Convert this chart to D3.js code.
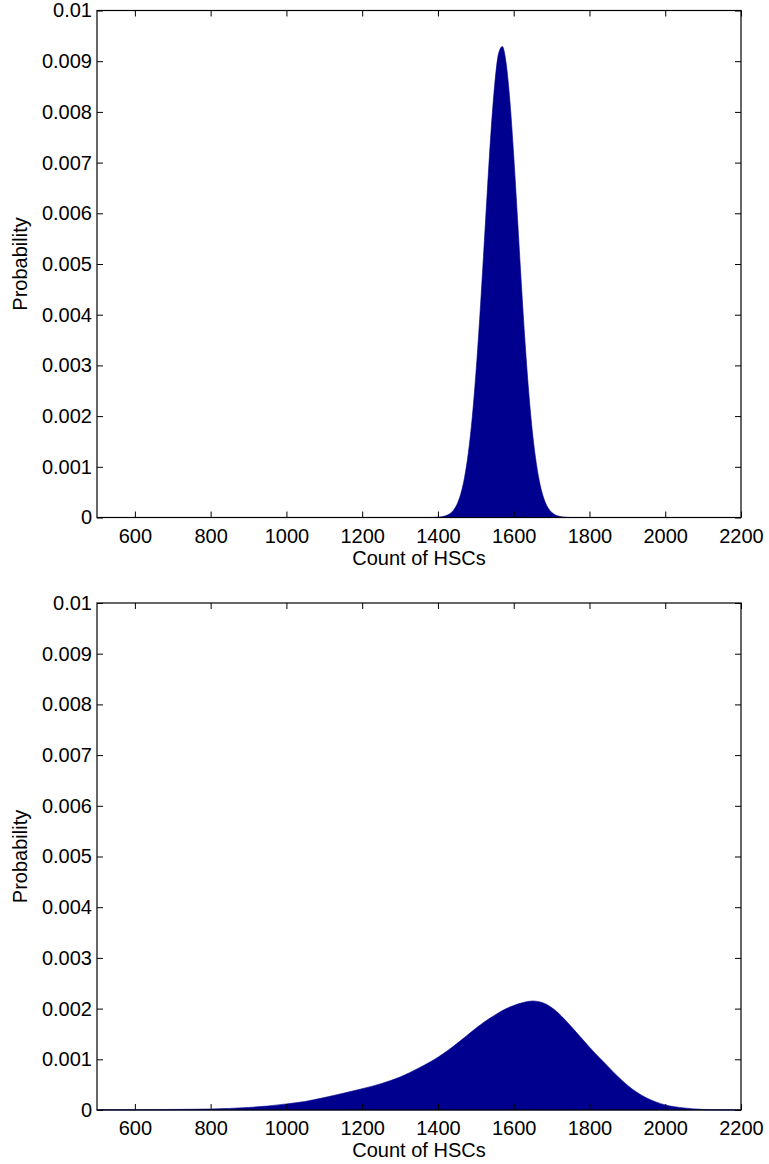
<!DOCTYPE html>
<html>
<head>
<meta charset="utf-8">
<script src="https://cdn.jsdelivr.net/npm/d3@7"></script>
<style>
  body { margin: 0; background: #fff; }
  svg { display: block; font-family: "Liberation Sans", Arial, sans-serif; }
</style>
</head>
<body>
<div id="chart"></div>
<script>
// x positions (count of HSCs) and probabilities
const topCounts = [500, 1380, 1390, 1400, 1410, 1420, 1430, 1440, 1450, 1460, 1470, 1480, 1490,
    1500, 1510, 1520, 1530, 1540, 1550, 1560, 1570, 1580, 1590, 1600, 1610, 1620, 1630, 1640,
    1650, 1660, 1670, 1680, 1690, 1700, 1710, 1720, 1730, 1740, 1750, 2200];
const topProb = [0, 0, 0.0000026, 0.0000064, 0.0000148, 0.0000325, 0.000068, 0.000135, 0.000255,
    0.000458, 0.000779, 0.00126, 0.00193, 0.00282, 0.0039, 0.00513, 0.0064, 0.0076, 0.00855,
    0.00915, 0.00929, 0.00896, 0.00821, 0.00714, 0.0059, 0.00463, 0.00345, 0.00244, 0.00164,
    0.00105, 0.000634, 0.000365, 0.000199, 0.000103, 0.000051, 0.0000238, 0.0000106, 0.0000045, 0, 0];

const bottomCounts = [500, 600, 700, 800, 850, 900, 950, 1000, 1050, 1100, 1150, 1200, 1250, 1300,
    1350, 1400, 1450, 1475, 1500, 1525, 1550, 1575, 1600, 1625, 1650, 1675, 1700, 1725, 1750,
    1775, 1800, 1825, 1850, 1875, 1900, 1925, 1950, 1975, 2000, 2050, 2100, 2150, 2200];
const bottomProb = [0.000003, 0.000006, 0.000011, 0.00002, 0.000032, 0.00005, 0.000078, 0.00012,
    0.00017, 0.000245, 0.00033, 0.00042, 0.00052, 0.00065, 0.00083, 0.00104, 0.00131, 0.00146,
    0.00161, 0.00175, 0.00187, 0.00198, 0.00206, 0.00212, 0.00215, 0.00212, 0.00202, 0.00186,
    0.00166, 0.00145, 0.00124, 0.00104, 0.00085, 0.00066, 0.00049, 0.00035, 0.00024, 0.00016,
    0.0001, 0.00004, 0.000012, 0.000003, 0.000001];

const xTicks = [600, 800, 1000, 1200, 1400, 1600, 1800, 2000, 2200];
const yTicks = [0, 0.001, 0.002, 0.003, 0.004, 0.005, 0.006, 0.007, 0.008, 0.009, 0.01];
const yTickLabels = ["0", "0.001", "0.002", "0.003", "0.004", "0.005", "0.006", "0.007", "0.008", "0.009", "0.01"];

const svg = d3.select("#chart")
    .append("svg")
    .attr("width", 769)
    .attr("height", 1164);

function drawPanel(counts, prob, top) {
    const left = 97, right = 741, height = 507;
    const g = svg.append("g").attr("transform", `translate(0,${top})`);

    const x = d3.scaleLinear().domain([500, 2200]).range([left, right]);
    const y = d3.scaleLinear().domain([0, 0.01]).range([height, 0]);

    const data = counts.map((c, i) => ({ c: c, p: prob[i] }));

    const area = d3.area()
        .x(d => x(d.c))
        .y0(y(0))
        .y1(d => y(d.p))
        .curve(d3.curveMonotoneX);

    g.append("path")
        .datum(data)
        .attr("fill", "#00008f")
        .attr("stroke", "#00008f")
        .attr("stroke-width", 0.6)
        .attr("d", area);

    // ticks pointing inward on all four sides
    const tickLen = 6;
    g.append("g").attr("transform", `translate(0,${height})`)
        .call(d3.axisBottom(x).tickValues(xTicks).tickSize(-tickLen).tickPadding(11).tickFormat(d3.format("d")))
        .call(s => s.select(".domain").remove());
    g.append("g")
        .call(d3.axisTop(x).tickValues(xTicks).tickSize(-tickLen).tickFormat(""))
        .call(s => s.select(".domain").remove());
    g.append("g").attr("transform", `translate(${left},0)`)
        .call(d3.axisLeft(y).tickValues(yTicks).tickSize(-tickLen).tickPadding(5)
            .tickFormat((d, i) => yTickLabels[i]))
        .call(s => s.select(".domain").remove());
    g.append("g").attr("transform", `translate(${right},0)`)
        .call(d3.axisRight(y).tickValues(yTicks).tickSize(-tickLen).tickFormat(""))
        .call(s => s.select(".domain").remove());

    g.selectAll(".tick line").attr("stroke", "#000");
    g.selectAll(".tick text").attr("font-size", 20).attr("fill", "#000")
        .attr("font-family", "Liberation Sans, Arial, sans-serif");

    g.append("rect")
        .attr("x", left).attr("y", 0)
        .attr("width", right - left).attr("height", height)
        .attr("fill", "none").attr("stroke", "#000").attr("stroke-width", 1.2);

    g.append("text")
        .attr("x", (left + right) / 2)
        .attr("y", height + 47)
        .attr("text-anchor", "middle")
        .attr("font-size", 20)
        .text("Count of HSCs");

    g.append("text")
        .attr("transform", `translate(27,${height / 2}) rotate(-90)`)
        .attr("text-anchor", "middle")
        .attr("font-size", 20)
        .text("Probability");
}

drawPanel(topCounts, topProb, 10.5);
drawPanel(bottomCounts, bottomProb, 603);
</script>
</body>
</html>
